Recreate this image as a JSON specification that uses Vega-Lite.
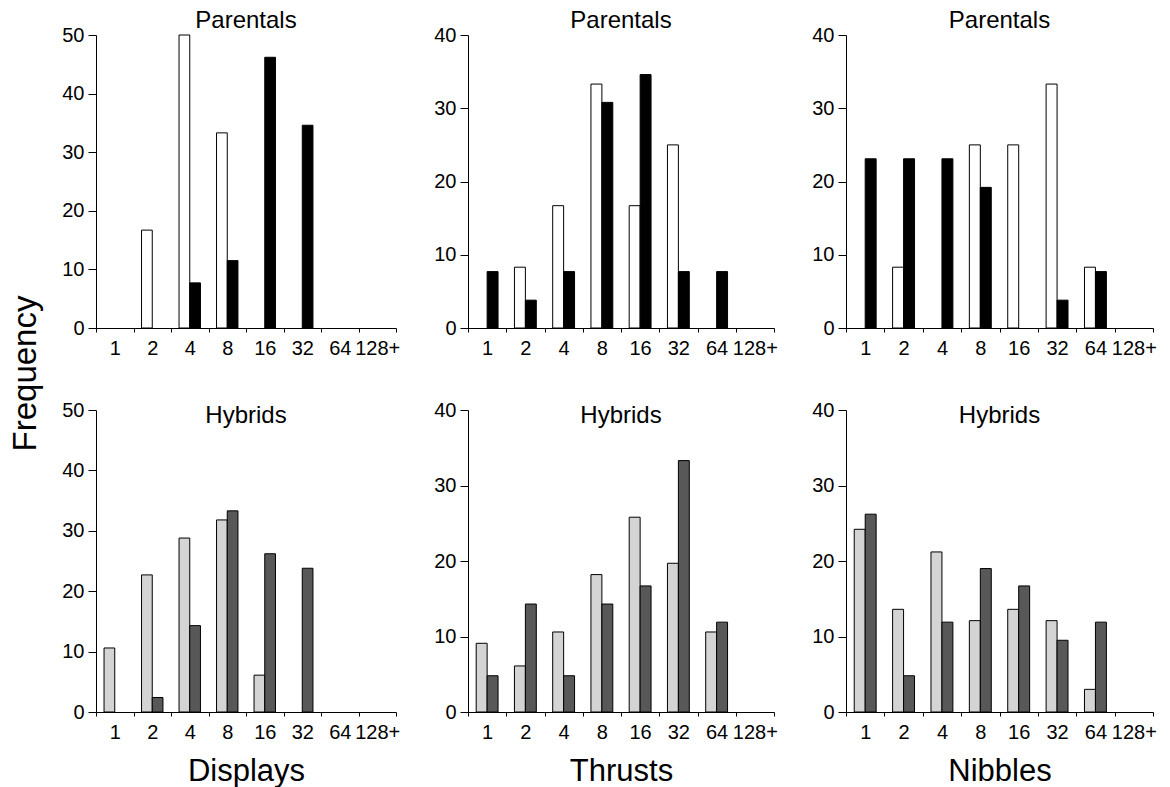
{
  "$schema": "https://vega.github.io/schema/vega-lite/v6.json",
  "background": "white",
  "padding": {"left": 9, "top": 9, "right": 5, "bottom": 5},
  "datasets": {
    "d": [
      {"behavior": "Displays", "group": "Parentals", "series": "A", "bin": "2", "freq": 16.7},
      {"behavior": "Displays", "group": "Parentals", "series": "A", "bin": "4", "freq": 50},
      {"behavior": "Displays", "group": "Parentals", "series": "A", "bin": "8", "freq": 33.3},
      {"behavior": "Displays", "group": "Parentals", "series": "B", "bin": "4", "freq": 7.7},
      {"behavior": "Displays", "group": "Parentals", "series": "B", "bin": "8", "freq": 11.5},
      {"behavior": "Displays", "group": "Parentals", "series": "B", "bin": "16", "freq": 46.2},
      {"behavior": "Displays", "group": "Parentals", "series": "B", "bin": "32", "freq": 34.6},
      {"behavior": "Thrusts", "group": "Parentals", "series": "A", "bin": "2", "freq": 8.3},
      {"behavior": "Thrusts", "group": "Parentals", "series": "A", "bin": "4", "freq": 16.7},
      {"behavior": "Thrusts", "group": "Parentals", "series": "A", "bin": "8", "freq": 33.3},
      {"behavior": "Thrusts", "group": "Parentals", "series": "A", "bin": "16", "freq": 16.7},
      {"behavior": "Thrusts", "group": "Parentals", "series": "A", "bin": "32", "freq": 25},
      {"behavior": "Thrusts", "group": "Parentals", "series": "B", "bin": "1", "freq": 7.7},
      {"behavior": "Thrusts", "group": "Parentals", "series": "B", "bin": "2", "freq": 3.8},
      {"behavior": "Thrusts", "group": "Parentals", "series": "B", "bin": "4", "freq": 7.7},
      {"behavior": "Thrusts", "group": "Parentals", "series": "B", "bin": "8", "freq": 30.8},
      {"behavior": "Thrusts", "group": "Parentals", "series": "B", "bin": "16", "freq": 34.6},
      {"behavior": "Thrusts", "group": "Parentals", "series": "B", "bin": "32", "freq": 7.7},
      {"behavior": "Thrusts", "group": "Parentals", "series": "B", "bin": "64", "freq": 7.7},
      {"behavior": "Nibbles", "group": "Parentals", "series": "A", "bin": "2", "freq": 8.3},
      {"behavior": "Nibbles", "group": "Parentals", "series": "A", "bin": "8", "freq": 25},
      {"behavior": "Nibbles", "group": "Parentals", "series": "A", "bin": "16", "freq": 25},
      {"behavior": "Nibbles", "group": "Parentals", "series": "A", "bin": "32", "freq": 33.3},
      {"behavior": "Nibbles", "group": "Parentals", "series": "A", "bin": "64", "freq": 8.3},
      {"behavior": "Nibbles", "group": "Parentals", "series": "B", "bin": "1", "freq": 23.1},
      {"behavior": "Nibbles", "group": "Parentals", "series": "B", "bin": "2", "freq": 23.1},
      {"behavior": "Nibbles", "group": "Parentals", "series": "B", "bin": "4", "freq": 23.1},
      {"behavior": "Nibbles", "group": "Parentals", "series": "B", "bin": "8", "freq": 19.2},
      {"behavior": "Nibbles", "group": "Parentals", "series": "B", "bin": "32", "freq": 3.8},
      {"behavior": "Nibbles", "group": "Parentals", "series": "B", "bin": "64", "freq": 7.7},
      {"behavior": "Displays", "group": "Hybrids", "series": "A", "bin": "1", "freq": 10.6},
      {"behavior": "Displays", "group": "Hybrids", "series": "A", "bin": "2", "freq": 22.7},
      {"behavior": "Displays", "group": "Hybrids", "series": "A", "bin": "4", "freq": 28.8},
      {"behavior": "Displays", "group": "Hybrids", "series": "A", "bin": "8", "freq": 31.8},
      {"behavior": "Displays", "group": "Hybrids", "series": "A", "bin": "16", "freq": 6.1},
      {"behavior": "Displays", "group": "Hybrids", "series": "B", "bin": "2", "freq": 2.4},
      {"behavior": "Displays", "group": "Hybrids", "series": "B", "bin": "4", "freq": 14.3},
      {"behavior": "Displays", "group": "Hybrids", "series": "B", "bin": "8", "freq": 33.3},
      {"behavior": "Displays", "group": "Hybrids", "series": "B", "bin": "16", "freq": 26.2},
      {"behavior": "Displays", "group": "Hybrids", "series": "B", "bin": "32", "freq": 23.8},
      {"behavior": "Thrusts", "group": "Hybrids", "series": "A", "bin": "1", "freq": 9.1},
      {"behavior": "Thrusts", "group": "Hybrids", "series": "A", "bin": "2", "freq": 6.1},
      {"behavior": "Thrusts", "group": "Hybrids", "series": "A", "bin": "4", "freq": 10.6},
      {"behavior": "Thrusts", "group": "Hybrids", "series": "A", "bin": "8", "freq": 18.2},
      {"behavior": "Thrusts", "group": "Hybrids", "series": "A", "bin": "16", "freq": 25.8},
      {"behavior": "Thrusts", "group": "Hybrids", "series": "A", "bin": "32", "freq": 19.7},
      {"behavior": "Thrusts", "group": "Hybrids", "series": "A", "bin": "64", "freq": 10.6},
      {"behavior": "Thrusts", "group": "Hybrids", "series": "B", "bin": "1", "freq": 4.8},
      {"behavior": "Thrusts", "group": "Hybrids", "series": "B", "bin": "2", "freq": 14.3},
      {"behavior": "Thrusts", "group": "Hybrids", "series": "B", "bin": "4", "freq": 4.8},
      {"behavior": "Thrusts", "group": "Hybrids", "series": "B", "bin": "8", "freq": 14.3},
      {"behavior": "Thrusts", "group": "Hybrids", "series": "B", "bin": "16", "freq": 16.7},
      {"behavior": "Thrusts", "group": "Hybrids", "series": "B", "bin": "32", "freq": 33.3},
      {"behavior": "Thrusts", "group": "Hybrids", "series": "B", "bin": "64", "freq": 11.9},
      {"behavior": "Nibbles", "group": "Hybrids", "series": "A", "bin": "1", "freq": 24.2},
      {"behavior": "Nibbles", "group": "Hybrids", "series": "A", "bin": "2", "freq": 13.6},
      {"behavior": "Nibbles", "group": "Hybrids", "series": "A", "bin": "4", "freq": 21.2},
      {"behavior": "Nibbles", "group": "Hybrids", "series": "A", "bin": "8", "freq": 12.1},
      {"behavior": "Nibbles", "group": "Hybrids", "series": "A", "bin": "16", "freq": 13.6},
      {"behavior": "Nibbles", "group": "Hybrids", "series": "A", "bin": "32", "freq": 12.1},
      {"behavior": "Nibbles", "group": "Hybrids", "series": "A", "bin": "64", "freq": 3.0},
      {"behavior": "Nibbles", "group": "Hybrids", "series": "B", "bin": "1", "freq": 26.2},
      {"behavior": "Nibbles", "group": "Hybrids", "series": "B", "bin": "2", "freq": 4.8},
      {"behavior": "Nibbles", "group": "Hybrids", "series": "B", "bin": "4", "freq": 11.9},
      {"behavior": "Nibbles", "group": "Hybrids", "series": "B", "bin": "8", "freq": 19.0},
      {"behavior": "Nibbles", "group": "Hybrids", "series": "B", "bin": "16", "freq": 16.7},
      {"behavior": "Nibbles", "group": "Hybrids", "series": "B", "bin": "32", "freq": 9.5},
      {"behavior": "Nibbles", "group": "Hybrids", "series": "B", "bin": "64", "freq": 11.9}
    ]
  },
  "title": {"text": "Frequency", "orient": "left", "anchor": "middle", "frame": "bounds", "fontSize": 33, "fontWeight": "normal", "font": "Liberation Sans", "color": "black", "offset": 19, "dx": 24},
  "config": {
    "font": "Liberation Sans",
    "view": {"stroke": null},
    "axis": {"domainColor": "black", "tickColor": "black", "labelColor": "black", "labelFont": "Liberation Sans", "labelFontSize": 20, "grid": false, "domainWidth": 1, "tickWidth": 1, "titleFont": "Liberation Sans", "titleFontSize": 31, "titleFontWeight": "normal", "titleColor": "black"},
    "axisX": {"tickSize": 4, "labelPadding": 6, "labelAngle": 0, "tickBand": "extent", "titlePadding": 14},
    "axisY": {"tickSize": 8, "labelPadding": 4},
    "title": {"font": "Liberation Sans", "fontSize": 24, "fontWeight": "normal", "color": "black", "frame": "group"},
    "bar": {"stroke": "black", "strokeWidth": 1}
  },
  "resolve": {"scale": {"color": "independent", "xOffset": "independent"}},
  "spacing": 42,
  "vconcat": [
    {
      "resolve": {"scale": {"xOffset": "independent"}},
      "spacing": 33,
      "hconcat": [
        {
          "width": 300, "height": 293,
          "title": {"text": "Parentals", "offset": -8},
          "data": {"name": "d"},
          "transform": [{"filter": "datum.behavior === 'Displays' && datum.group === 'Parentals'"}],
          "mark": {"type": "bar"},
          "encoding": {
            "x": {"field": "bin", "type": "nominal", "scale": {"domain": ["1", "2", "4", "8", "16", "32", "64", "128+"], "paddingInner": 0, "paddingOuter": 0}, "axis": {"title": null}},
            "xOffset": {"field": "series", "type": "nominal", "scale": {"domain": ["A", "B"], "paddingInner": 0, "paddingOuter": 0.75}},
            "y": {"field": "freq", "type": "quantitative", "scale": {"domain": [0, 50], "nice": false}, "axis": {"values": [0, 10, 20, 30, 40, 50], "title": null}},
            "color": {"field": "series", "type": "nominal", "scale": {"domain": ["A", "B"], "range": ["#ffffff", "#000000"]}, "legend": null}
          }
        },
        {
          "width": 306, "height": 293,
          "title": {"text": "Parentals", "offset": -8},
          "data": {"name": "d"},
          "transform": [{"filter": "datum.behavior === 'Thrusts' && datum.group === 'Parentals'"}],
          "mark": {"type": "bar"},
          "encoding": {
            "x": {"field": "bin", "type": "nominal", "scale": {"domain": ["1", "2", "4", "8", "16", "32", "64", "128+"], "paddingInner": 0, "paddingOuter": 0}, "axis": {"title": null}},
            "xOffset": {"field": "series", "type": "nominal", "scale": {"domain": ["A", "B"], "paddingInner": 0, "paddingOuter": 0.75}},
            "y": {"field": "freq", "type": "quantitative", "scale": {"domain": [0, 40], "nice": false}, "axis": {"values": [0, 10, 20, 30, 40], "title": null}},
            "color": {"field": "series", "type": "nominal", "scale": {"domain": ["A", "B"], "range": ["#ffffff", "#000000"]}, "legend": null}
          }
        },
        {
          "width": 307, "height": 293,
          "title": {"text": "Parentals", "offset": -8},
          "data": {"name": "d"},
          "transform": [{"filter": "datum.behavior === 'Nibbles' && datum.group === 'Parentals'"}],
          "mark": {"type": "bar"},
          "encoding": {
            "x": {"field": "bin", "type": "nominal", "scale": {"domain": ["1", "2", "4", "8", "16", "32", "64", "128+"], "paddingInner": 0, "paddingOuter": 0}, "axis": {"title": null}},
            "xOffset": {"field": "series", "type": "nominal", "scale": {"domain": ["A", "B"], "paddingInner": 0, "paddingOuter": 0.75}},
            "y": {"field": "freq", "type": "quantitative", "scale": {"domain": [0, 40], "nice": false}, "axis": {"values": [0, 10, 20, 30, 40], "title": null}},
            "color": {"field": "series", "type": "nominal", "scale": {"domain": ["A", "B"], "range": ["#ffffff", "#000000"]}, "legend": null}
          }
        }
      ]
    },
    {
      "resolve": {"scale": {"xOffset": "independent"}},
      "spacing": 33,
      "hconcat": [
        {
          "width": 300, "height": 302,
          "title": {"text": "Hybrids", "offset": -28},
          "data": {"name": "d"},
          "transform": [{"filter": "datum.behavior === 'Displays' && datum.group === 'Hybrids'"}],
          "mark": {"type": "bar"},
          "encoding": {
            "x": {"field": "bin", "type": "nominal", "scale": {"domain": ["1", "2", "4", "8", "16", "32", "64", "128+"], "paddingInner": 0, "paddingOuter": 0}, "axis": {"title": "Displays"}},
            "xOffset": {"field": "series", "type": "nominal", "scale": {"domain": ["A", "B"], "paddingInner": 0, "paddingOuter": 0.75}},
            "y": {"field": "freq", "type": "quantitative", "scale": {"domain": [0, 50], "nice": false}, "axis": {"values": [0, 10, 20, 30, 40, 50], "title": null}},
            "color": {"field": "series", "type": "nominal", "scale": {"domain": ["A", "B"], "range": ["#d4d4d4", "#585858"]}, "legend": null}
          }
        },
        {
          "width": 306, "height": 302,
          "title": {"text": "Hybrids", "offset": -28},
          "data": {"name": "d"},
          "transform": [{"filter": "datum.behavior === 'Thrusts' && datum.group === 'Hybrids'"}],
          "mark": {"type": "bar"},
          "encoding": {
            "x": {"field": "bin", "type": "nominal", "scale": {"domain": ["1", "2", "4", "8", "16", "32", "64", "128+"], "paddingInner": 0, "paddingOuter": 0}, "axis": {"title": "Thrusts"}},
            "xOffset": {"field": "series", "type": "nominal", "scale": {"domain": ["A", "B"], "paddingInner": 0, "paddingOuter": 0.75}},
            "y": {"field": "freq", "type": "quantitative", "scale": {"domain": [0, 40], "nice": false}, "axis": {"values": [0, 10, 20, 30, 40], "title": null}},
            "color": {"field": "series", "type": "nominal", "scale": {"domain": ["A", "B"], "range": ["#d4d4d4", "#585858"]}, "legend": null}
          }
        },
        {
          "width": 307, "height": 302,
          "title": {"text": "Hybrids", "offset": -28},
          "data": {"name": "d"},
          "transform": [{"filter": "datum.behavior === 'Nibbles' && datum.group === 'Hybrids'"}],
          "mark": {"type": "bar"},
          "encoding": {
            "x": {"field": "bin", "type": "nominal", "scale": {"domain": ["1", "2", "4", "8", "16", "32", "64", "128+"], "paddingInner": 0, "paddingOuter": 0}, "axis": {"title": "Nibbles"}},
            "xOffset": {"field": "series", "type": "nominal", "scale": {"domain": ["A", "B"], "paddingInner": 0, "paddingOuter": 0.75}},
            "y": {"field": "freq", "type": "quantitative", "scale": {"domain": [0, 40], "nice": false}, "axis": {"values": [0, 10, 20, 30, 40], "title": null}},
            "color": {"field": "series", "type": "nominal", "scale": {"domain": ["A", "B"], "range": ["#d4d4d4", "#585858"]}, "legend": null}
          }
        }
      ]
    }
  ]
}
